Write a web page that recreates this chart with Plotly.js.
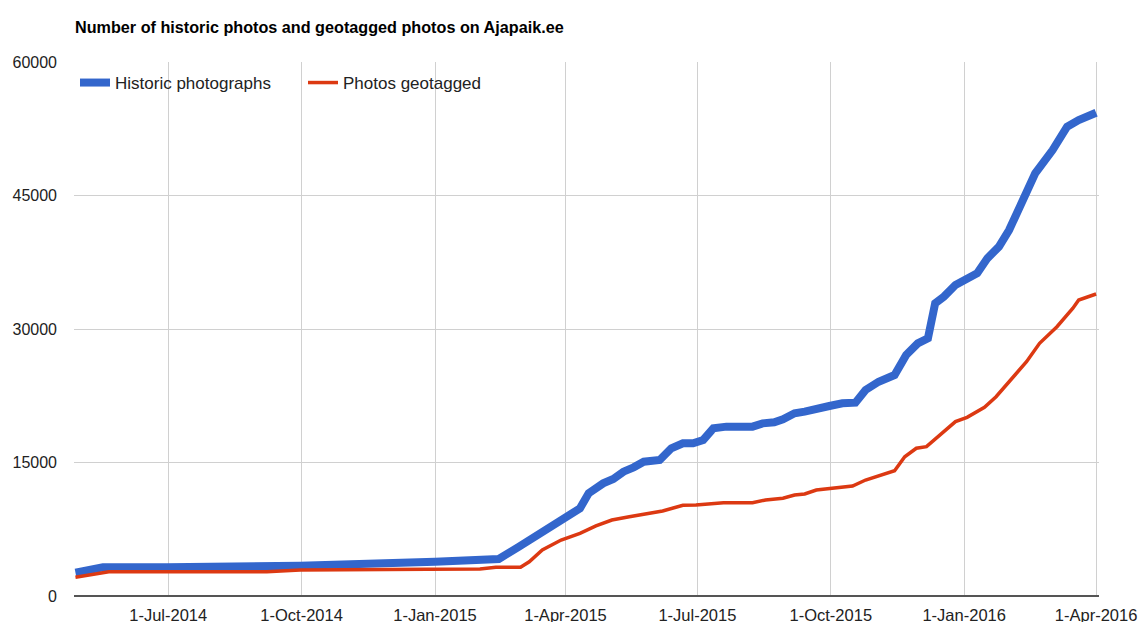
<!DOCTYPE html>
<html>
<head>
<meta charset="utf-8">
<script src="https://cdn.plot.ly/plotly-3.0.1.min.js"></script>
<style>
  html, body { margin: 0; padding: 0; background: #ffffff; }
  #chart { width: 1141px; height: 622px; }
</style>
</head>
<body>
<div id="chart"></div>
<script>
// ---- Data ----
const historicDates = [
  "2014-04-28", "2014-05-17", "2014-06-30", "2014-09-30", "2015-01-01",
  "2015-02-01", "2015-02-14", "2015-02-28", "2015-03-14", "2015-03-30",
  "2015-04-11", "2015-04-17", "2015-04-27", "2015-05-04", "2015-05-11",
  "2015-05-18", "2015-05-25", "2015-06-05", "2015-06-13", "2015-06-21",
  "2015-06-28", "2015-07-05", "2015-07-12", "2015-07-21", "2015-08-08",
  "2015-08-15", "2015-08-23", "2015-08-29", "2015-09-06", "2015-09-13",
  "2015-09-21", "2015-09-30", "2015-10-09", "2015-10-18", "2015-10-25",
  "2015-11-03", "2015-11-14", "2015-11-22", "2015-11-30", "2015-12-07",
  "2015-12-12", "2015-12-18", "2015-12-26", "2016-01-02", "2016-01-10",
  "2016-01-17", "2016-01-25", "2016-02-01", "2016-02-10", "2016-02-19",
  "2016-03-02", "2016-03-12", "2016-03-20", "2016-04-01"
];
const historicPhotos = [
  2620, 3220, 3220, 3400, 3850,
  3930, 4160, 5540, 6970, 8460,
  9850, 11540, 12660, 13150, 13970,
  14460, 15090, 15280, 16600, 17160,
  17160, 17530, 18840, 19030, 19030,
  19400, 19510, 19850, 20530, 20710,
  21090, 21350, 21650, 21720, 23150,
  24080, 24830, 27080, 28390, 28950,
  32890, 33630, 34940, 35510, 36260,
  37940, 39250, 41120, 44120, 47490,
  50110, 52730, 53480, 54300
];

const geotaggedDates = [
  "2014-04-28", "2014-05-21", "2014-09-07", "2014-09-30", "2014-12-27",
  "2015-02-01", "2015-02-12", "2015-03-01", "2015-03-07", "2015-03-16",
  "2015-03-29", "2015-04-11", "2015-04-22", "2015-05-03", "2015-05-15",
  "2015-05-27", "2015-06-07", "2015-06-21", "2015-06-30", "2015-07-19",
  "2015-08-08", "2015-08-17", "2015-08-29", "2015-09-06", "2015-09-13",
  "2015-09-21", "2015-10-02", "2015-10-16", "2015-10-25", "2015-11-06",
  "2015-11-14", "2015-11-21", "2015-11-29", "2015-12-06", "2015-12-15",
  "2015-12-26", "2016-01-03", "2016-01-15", "2016-01-23", "2016-02-01",
  "2016-02-13", "2016-02-22", "2016-03-05", "2016-03-16", "2016-03-20",
  "2016-04-01"
];
const geotaggedPhotos = [
  2100, 2730, 2730, 2920, 3000,
  3030, 3220, 3220, 3850, 5170,
  6290, 7040, 7870, 8540, 8910,
  9290, 9550, 10190, 10220, 10480,
  10480, 10790, 10980, 11350, 11460,
  11910, 12100, 12360, 13030, 13670,
  14080, 15650, 16600, 16780, 18090,
  19590, 20080, 21200, 22390, 24080,
  26330, 28390, 30260, 32330, 33260,
  33930
];

const seriesNames = ["Historic photographs", "Photos geotagged"];
const xTickDates = ["2014-07-01", "2014-10-01", "2015-01-01", "2015-04-01",
                    "2015-07-01", "2015-10-01", "2016-01-01", "2016-04-01"];
const xTickLabels = ["1-Jul-2014", "1-Oct-2014", "1-Jan-2015", "1-Apr-2015",
                     "1-Jul-2015", "1-Oct-2015", "1-Jan-2016", "1-Apr-2016"];
const yTickValues = [0, 15000, 30000, 45000, 60000];
const yTickLabels = ["0", "15000", "30000", "45000", "60000"];
const chartTitle = "Number of historic photos and geotagged photos on Ajapaik.ee";

// ---- Chart ----
const FONT = "Liberation Sans, Arial, Helvetica, sans-serif";

const traces = [
  {
    x: historicDates, y: historicPhotos, name: seriesNames[0],
    type: "scatter", mode: "lines",
    line: { color: "#3366cc", width: 8, shape: "linear" },
    hoverinfo: "x+y"
  },
  {
    x: geotaggedDates, y: geotaggedPhotos, name: seriesNames[1],
    type: "scatter", mode: "lines",
    line: { color: "#dc3912", width: 3.5, shape: "linear" },
    hoverinfo: "x+y"
  }
];

const layout = {
  width: 1141, height: 622,
  paper_bgcolor: "#ffffff", plot_bgcolor: "#ffffff",
  margin: { l: 74, r: 42, t: 62, b: 26, autoexpand: false },
  font: { family: FONT, color: "#222222", size: 16 },
  title: {
    text: chartTitle,
    font: { family: FONT, size: 16.2, color: "#000000", weight: "bold" },
    x: 75 / 1141, xref: "container", xanchor: "left",
    y: 1 - 27 / 622, yref: "container", yanchor: "middle"
  },
  showlegend: true,
  legend: {
    orientation: "h",
    x: 1 / 1025, xanchor: "left", xref: "paper",
    y: 1 - 21 / 534, yanchor: "middle", yref: "paper",
    bgcolor: "rgba(255,255,255,0)",
    borderwidth: 0,
    font: { family: FONT, size: 17, color: "#222222" },
    entrywidth: 183, entrywidthmode: "pixels",
    itemwidth: 30,
    traceorder: "normal"
  },
  xaxis: {
    type: "date",
    range: ["2014-04-27", "2016-04-03"],
    tickmode: "array",
    tickvals: xTickDates,
    ticktext: xTickLabels,
    showgrid: true, gridcolor: "#d0d0d0", gridwidth: 1,
    zeroline: false, showline: false,
    ticks: "", ticklabelstandoff: 7,
    tickfont: { family: FONT, size: 16.5, color: "#222222" },
    automargin: false, fixedrange: true
  },
  yaxis: {
    range: [0, 60000],
    tickmode: "array",
    tickvals: yTickValues,
    ticktext: yTickLabels,
    showgrid: true, gridcolor: "#d0d0d0", gridwidth: 1,
    zeroline: true, zerolinecolor: "#555555", zerolinewidth: 1.5,
    showline: false, ticks: "", ticklabelstandoff: 16,
    tickfont: { family: FONT, size: 16, color: "#222222" },
    automargin: false, fixedrange: true
  }
};

Plotly.newPlot("chart", traces, layout, { displayModeBar: false, staticPlot: true });
</script>
</body>
</html>
